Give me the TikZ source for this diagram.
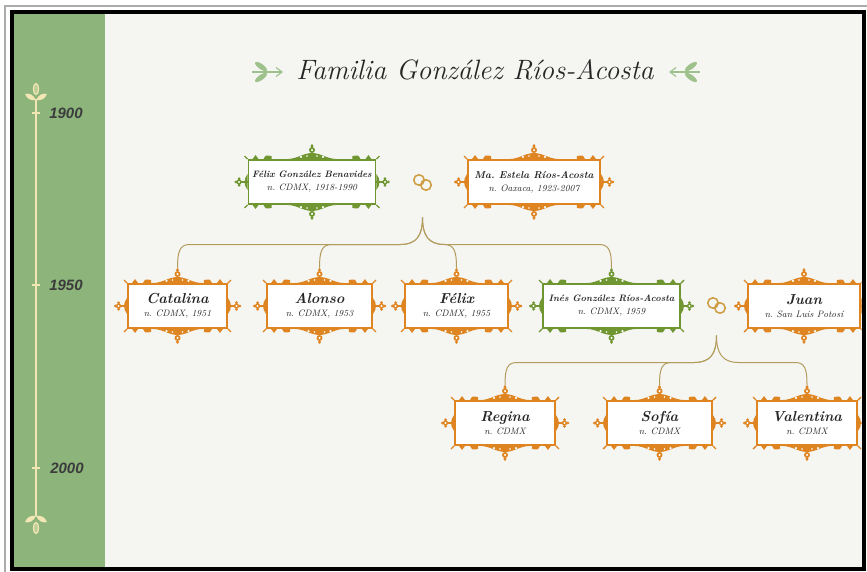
\documentclass[tikz,border=0pt]{standalone}
\usepackage{fontspec}
\newfontfamily\yearfont{Liberation Sans}
\usetikzlibrary{calc}
\definecolor{paper}{HTML}{F5F5F2}
\definecolor{panel}{HTML}{8DB47B}
\definecolor{cream}{HTML}{F1E6B4}
\definecolor{fgreen}{HTML}{6F9630}
\definecolor{forange}{HTML}{DE8420}
\definecolor{conn}{HTML}{B39C5E}
\definecolor{ring}{HTML}{CC9C3E}
\definecolor{leaf}{HTML}{9DC28C}
\definecolor{ink}{HTML}{262626}
\tikzset{
 person/.style={rectangle, draw=#1, line width=1.9pt, fill=white, minimum height=44pt,
   inner sep=1pt, align=center, text=ink, font=\itshape\frenchspacing},
 connline/.style={draw=conn, line width=1pt},
 ringstyle/.style={draw=ring, line width=1.5pt, circle, minimum size=10.5pt, inner sep=0pt},
 year/.style={font=\yearfont\itshape\bfseries\fontsize{15}{15}\selectfont, text=ink!90},
 maintitle/.style={font=\itshape\fontsize{28}{30}\selectfont, text=ink},
}
\newcommand\pname[3][14.5]{{\bfseries\fontsize{#1}{#1}\selectfont #2}\\[1pt]{\fontsize{9.3}{9.5}\selectfont #3}}
% ornaments of a frame: #1 node, #2 colour
\newcommand\orn[2]{%
 \coordinate (#1-top) at ($(#1.north)+(0,-15)$);
 \foreach \u/\a/\aw/\ae in {-1/north/north west/north east, 1/south/south west/south east}{%
  \fill[#2] ($(#1.\a)+(-25,0)$) .. controls ($(#1.\a)+(-15,0)$) and ($(#1.\a)+(-9,{\u*6})$) ..
     ($(#1.\a)+(0,{\u*6})$) .. controls ($(#1.\a)+(9,{\u*6})$) and ($(#1.\a)+(15,0)$) .. ($(#1.\a)+(25,0)$) -- cycle;
  \fill[white] ($(#1.\a)+(-11,{\u*2.2})$) circle (1.3) ($(#1.\a)+(11,{\u*2.2})$) circle (1.3)
     ($(#1.\a)+(-5,{\u*3})$) circle (0.9) ($(#1.\a)+(5,{\u*3})$) circle (0.9);
  \fill[#2] ($(#1.\a)+(0,{\u*9})$) circle (3);
  \fill[white] ($(#1.\a)+(0,{\u*9})$) circle (1.2);
  \fill[#2] ($(#1.\a)+(0,{\u*15})$) -- ($(#1.\a)+(1.6,{\u*13})$) -- ($(#1.\a)+(0,{\u*11})$) -- ($(#1.\a)+(-1.6,{\u*13})$) -- cycle;
  \fill[#2] ($(#1.\aw)+(5,0)$) -- ($(#1.\aw)+(8,{\u*4})$) -- ($(#1.\aw)+(11,0)$) -- cycle;
  \fill[#2] ($(#1.\ae)+(-5,0)$) -- ($(#1.\ae)+(-8,{\u*4})$) -- ($(#1.\ae)+(-11,0)$) -- cycle;
  \fill[#2] ($(#1.\aw)+(16,0)$) .. controls ($(#1.\aw)+(18,{\u*4})$) .. ($(#1.\aw)+(24,{\u*3})$) -- ($(#1.\aw)+(24,0)$) -- cycle;
  \fill[#2] ($(#1.\ae)+(-16,0)$) .. controls ($(#1.\ae)+(-18,{\u*4})$) .. ($(#1.\ae)+(-24,{\u*3})$) -- ($(#1.\ae)+(-24,0)$) -- cycle;
  \draw[#2, line width=1.4pt] (#1.\aw) -- ($(#1.\aw)+(-3,{\u*3})$);
  \draw[#2, line width=1.4pt] (#1.\ae) -- ($(#1.\ae)+(3,{\u*3})$);
 }
 \foreach \v/\b in {-1/west, 1/east}{%
  \fill[#2] ($(#1.\b)+(0,-8)$) .. controls ($(#1.\b)+({\v*2},-5)$) and ($(#1.\b)+({\v*3},-3)$) ..
     ($(#1.\b)+({\v*3},0)$) .. controls ($(#1.\b)+({\v*3},3)$) and ($(#1.\b)+({\v*2},5)$) .. ($(#1.\b)+(0,8)$) -- cycle;
  \draw[#2, line width=1.2pt] (#1.\b) -- ($(#1.\b)+({\v*7},0)$);
  \fill[#2] ($(#1.\b)+({\v*8.5},0)$) circle (2.6)
     ($(#1.\b)+({\v*11.8},0)$) circle (1.5) ($(#1.\b)+({\v*8.5},-3.3)$) circle (1.5) ($(#1.\b)+({\v*8.5},3.3)$) circle (1.5);
  \fill[white] ($(#1.\b)+({\v*8.5},0)$) circle (1.1);
 }
}
% connector from a cusp to a child: #1 cusp, #2 level, #3 child, #4 side (-1 left, 1 right)
\newcommand\famdrop[4]{%
 \coordinate (#3-h) at (#3-top |- #2);
 \draw[connline] (#1) .. controls ($(#1)+(0,18)$) and ($(#1)+({#4*6},27)$) .. ($(#1)+({#4*22},27)$)
   -- ($(#3-h)+({#4*-12},0)$) .. controls ($(#3-h)+({#4*-2},0)$) and ($(#3-top)+(0,-16)$) .. (#3-top);
}
\begin{document}
\begin{tikzpicture}[x=1pt,y=-1pt]
\useasboundingbox (0,0) rectangle (867,572);
\fill[white] (0,0) rectangle (867,572);
\draw[gray!65, line width=1.5pt] (5,580) -- (5,6) -- (880,6);
\fill[paper] (12,12) rectangle (863,568);
\fill[panel] (13,13) rectangle (105,568);

% timeline
\draw[cream, line width=2pt] (36,99) -- (36,516);
\foreach \yy in {113,285,468} \draw[cream, line width=1.6pt] (32,\yy) -- (40,\yy);
\draw[cream, line width=1.2pt, fill=cream!50!panel] (36,89) ellipse [x radius=2.6, y radius=5.5];
\fill[cream] (36,100) .. controls (33,94) and (29,93) .. (25,94) .. controls (27,99) and (31,101) .. (36,100) -- cycle;
\fill[cream] (36,100) .. controls (39,94) and (43,93) .. (47,94) .. controls (45,99) and (41,101) .. (36,100) -- cycle;
\fill[cream] (36,516) .. controls (33,522) and (29,523) .. (25,522) .. controls (27,517) and (31,515) .. (36,516) -- cycle;
\fill[cream] (36,516) .. controls (39,522) and (43,523) .. (47,522) .. controls (45,517) and (41,515) .. (36,516) -- cycle;
\draw[cream, line width=1.2pt, fill=cream!50!panel] (36,528) ellipse [x radius=2.6, y radius=5.5];
\node[year] (y1900) at (66,113) {1900};
\node[year] (y1950) at (66,285) {1950};
\node[year] (y2000) at (67,468) {2000};

% title
\node[maintitle] (title) at (475,70) {Familia González Ríos-Acosta};
\draw[leaf, line width=1.1pt] (252,72) -- (282,72);
\draw[leaf, line width=1.1pt] (276,67.5) -- (282,72) -- (276,76.5);
\fill[leaf, rotate around={-35:(261,66.5)}] (261,66.5) ellipse [x radius=7, y radius=2.6];
\fill[leaf, rotate around={35:(261,77.5)}] (261,77.5) ellipse [x radius=7, y radius=2.6];
\draw[leaf, line width=1.1pt] (670,72) -- (700,72);
\draw[leaf, line width=1.1pt] (676,67.5) -- (670,72) -- (676,76.5);
\fill[leaf, rotate around={35:(691,66.5)}] (691,66.5) ellipse [x radius=7, y radius=2.6];
\fill[leaf, rotate around={-35:(691,77.5)}] (691,77.5) ellipse [x radius=7, y radius=2.6];

\begin{scope}
\clip (14,14) rectangle (861.5,567);
% generation 1
\node[person=fgreen, minimum width=127pt] (felixsr) at (312,182)
  {\pname[9.3]{Félix González Benavides}{n. CDMX, 1918-1990}};
\node[person=forange, minimum width=132pt] (estela) at (534,182)
  {\pname[10]{Ma. Estela Ríos-Acosta}{n. Oaxaca, 1923-2007}};
\node[ringstyle] (r1a) at (419,180) {};
\node[ringstyle] (r1b) at (426,185) {};
% generation 2
\node[person=forange, minimum width=99pt] (catalina) at (177.5,306) {\pname{Catalina}{n. CDMX, 1951}};
\node[person=forange, minimum width=105pt] (alonso) at (319.5,306) {\pname{Alonso}{n. CDMX, 1953}};
\node[person=forange, minimum width=103pt] (felix) at (456.5,306) {\pname{Félix}{n. CDMX, 1955}};
\node[person=fgreen, minimum width=137pt] (ines) at (611.5,306)
  {\pname[9.3]{Inés González Ríos-Acosta}{n. CDMX, 1959}};
\node[ringstyle] (r2a) at (713,303) {};
\node[ringstyle] (r2b) at (720,308) {};
\node[person=forange, minimum width=112pt] (juan) at (804,306) {\pname{Juan}{n. San Luis Potosí}};
% generation 3
\node[person=forange, minimum width=100pt] (regina) at (505,423) {\pname{Regina}{n. CDMX}};
\node[person=forange, minimum width=105pt] (sofia) at (659.5,423) {\pname{Sofía}{n. CDMX}};
\node[person=forange, minimum width=100pt] (valentina) at (807,423) {\pname{Valentina}{n. CDMX}};

\orn{felixsr}{fgreen}
\orn{estela}{forange}
\orn{catalina}{forange}
\orn{alonso}{forange}
\orn{felix}{forange}
\orn{ines}{fgreen}
\orn{juan}{forange}
\orn{regina}{forange}
\orn{sofia}{forange}
\orn{valentina}{forange}

% connectors
\coordinate (m1) at ($(r1a)!0.5!(r1b)+(0,35)$);
\coordinate (h1) at ($(m1)+(0,27)$);
\famdrop{m1}{h1}{catalina}{-1}
\famdrop{m1}{h1}{alonso}{-1}
\famdrop{m1}{h1}{felix}{1}
\famdrop{m1}{h1}{ines}{1}
\coordinate (m2) at ($(r2a)!0.5!(r2b)+(0,30)$);
\coordinate (h2) at ($(m2)+(0,27)$);
\famdrop{m2}{h2}{regina}{-1}
\famdrop{m2}{h2}{sofia}{-1}
\famdrop{m2}{h2}{valentina}{1}
\end{scope}

\draw[line width=4pt] (11.5,12.5) rectangle (863.5,569);
\end{tikzpicture}
\end{document}
